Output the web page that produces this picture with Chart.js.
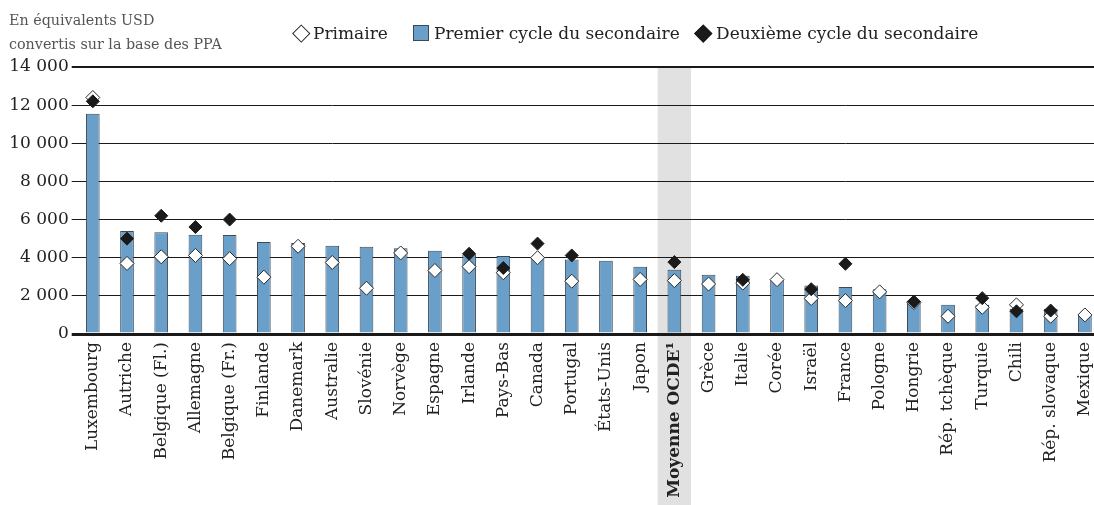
<!DOCTYPE html>
<html lang="fr">
<head>
<meta charset="utf-8">
<script src="https://cdn.jsdelivr.net/npm/chart.js@4/dist/chart.umd.min.js"></script>
<style>
  html, body { margin: 0; padding: 0; background: #fff; overflow: hidden; width: 1094px; height: 505px; }
  #wrap { position: relative; width: 1094px; height: 505px; overflow: hidden; font-family: "DejaVu Serif", serif; color: #222; }
  #inner { position: absolute; left: 0; top: 0; width: 1102px; height: 505px; }
  canvas { position: absolute; left: 0; top: 0; }
  .ytitle { position: absolute; left: 9px; top: 8px; font-size: 14.3px; line-height: 24px; color: #555; white-space: nowrap; }
  .leg { position: absolute; top: 23px; font-size: 17px; line-height: 20px; white-space: nowrap; color: #222; }
  .sym { position: absolute; }
  .dia { width: 12.5px; height: 12.5px; transform: rotate(45deg); box-sizing: border-box; }
</style>
</head>
<body>
<div id="wrap">
  <div id="inner"><canvas id="c" width="1102" height="505"></canvas></div>
  <div class="ytitle">En équivalents USD<br>convertis sur la base des PPA</div>
  <div class="sym dia" style="left:295px; top:26.5px; background:#fff; border:1.3px solid #222;"></div>
  <div class="leg" style="left:313px;">Primaire</div>
  <div class="sym" style="left:413px; top:25px; width:16px; height:16px; box-sizing:border-box; background:#6a9fca; border:1px solid #3d4a55;"></div>
  <div class="leg" style="left:434px;">Premier cycle du secondaire</div>
  <div class="sym dia" style="left:697px; top:26.5px; background:#1a1a1a; border:1.3px solid #1a1a1a;"></div>
  <div class="leg" style="left:716px;">Deuxième cycle du secondaire</div>
</div>
<script>
const categories = ["Luxembourg","Autriche","Belgique (Fl.)","Allemagne","Belgique (Fr.)","Finlande","Danemark","Australie","Slovénie","Norvège","Espagne","Irlande","Pays-Bas","Canada","Portugal","États-Unis","Japon","Moyenne OCDE¹","Grèce","Italie","Corée","Israël","France","Pologne","Hongrie","Rép. tchèque","Turquie","Chili","Rép. slovaque","Mexique"];

const premierCycle = [11550,5400,5330,5200,5190,4820,4770,4630,4580,4490,4370,4180,4090,3980,3900,3840,3530,3370,3110,3050,2850,2540,2470,2350,1750,1530,1530,1320,1310,980];

const primaire = [12400,3700,4050,4120,3950,2980,4600,3750,2400,4250,3330,3530,3210,4000,2770,null,2860,2800,2620,2670,2850,1860,1750,2210,1650,930,1400,1530,930,1000];

const deuxiemeCycle = [12200,5000,6200,5610,6000,null,null,null,null,null,null,4210,3460,4740,4120,null,null,3770,null,2840,null,2350,3680,null,1700,null,1880,1190,1230,null];

const yTicks = [0,2000,4000,6000,8000,10000,12000,14000];
const highlightIndex = 17;

const FONT = "DejaVu Serif";

const bandPlugin = {
  id: 'band',
  beforeDraw(chart) {
    const x = chart.scales.x;
    const y = chart.scales.y;
    const cx = x.getPixelForValue(highlightIndex);
    const w = (x.getPixelForValue(1) - x.getPixelForValue(0)) * 0.975;
    const ctx = chart.ctx;
    ctx.save();
    ctx.fillStyle = '#e1e1e1';
    ctx.fillRect(cx - w / 2, y.getPixelForValue(14000), w, chart.height - y.getPixelForValue(14000));
    ctx.restore();
  }
};

function fmt(v) {
  return String(v).replace(/\B(?=(\d{3})+(?!\d))/g, ' ');
}

new Chart(document.getElementById('c'), {
  type: 'bar',
  data: {
    labels: categories,
    datasets: [
      {
        type: 'line',
        label: 'Primaire',
        data: primaire,
        showLine: false,
        pointStyle: 'rectRot',
        pointRadius: 7,
        pointBackgroundColor: '#ffffff',
        pointBorderColor: '#2a2a2a',
        pointBorderWidth: 1,
        order: 1
      },
      {
        type: 'bar',
        label: 'Premier cycle du secondaire',
        data: premierCycle,
        backgroundColor: '#6a9fca',
        borderColor: '#3d4a55',
        borderWidth: 1,
        categoryPercentage: 1,
        barPercentage: 0.4,
        order: 2
      },
      {
        type: 'line',
        label: 'Deuxième cycle du secondaire',
        data: deuxiemeCycle,
        showLine: false,
        pointStyle: 'rectRot',
        pointRadius: 6.5,
        pointBackgroundColor: '#1a1a1a',
        pointBorderColor: '#1a1a1a',
        pointBorderWidth: 1,
        order: 0
      }
    ]
  },
  options: {
    responsive: false,
    animation: false,
    layout: { autoPadding: false, padding: { top: 67, left: 0, right: 0, bottom: 0 } },
    plugins: {
      legend: { display: false },
      tooltip: { enabled: false }
    },
    scales: {
      x: {
        grid: { display: false, drawTicks: false },
        border: { display: false },
        ticks: {
          autoSkip: false,
          minRotation: 90,
          maxRotation: 90,
          padding: 8,
          color: '#222',
          font: (ctx) => ({ family: FONT, size: 17, weight: ctx.index === highlightIndex ? 'bold' : 'normal' })
        },
        afterFit(s) { s.height = 171; s.paddingLeft = 0; s.paddingRight = 0; }
      },
      y: {
        min: 0,
        max: 14000,
        afterBuildTicks(s) { s.ticks = yTicks.map(v => ({ value: v })); },
        border: { display: false },
        grid: {
          color: '#1a1a1a',
          tickLength: 4,
          lineWidth: (ctx) => ctx.tick && ctx.tick.value === 0 ? 3 : (ctx.tick && ctx.tick.value === 14000 ? 2 : 1)
        },
        ticks: {
          padding: 3,
          color: '#222',
          font: { family: FONT, size: 17 },
          callback: (v) => fmt(v)
        },
        afterFit(s) { s.width = 75.7; s.paddingTop = 0; s.paddingBottom = 0; }
      }
    }
  },
  plugins: [bandPlugin]
});
</script>
</body>
</html>
